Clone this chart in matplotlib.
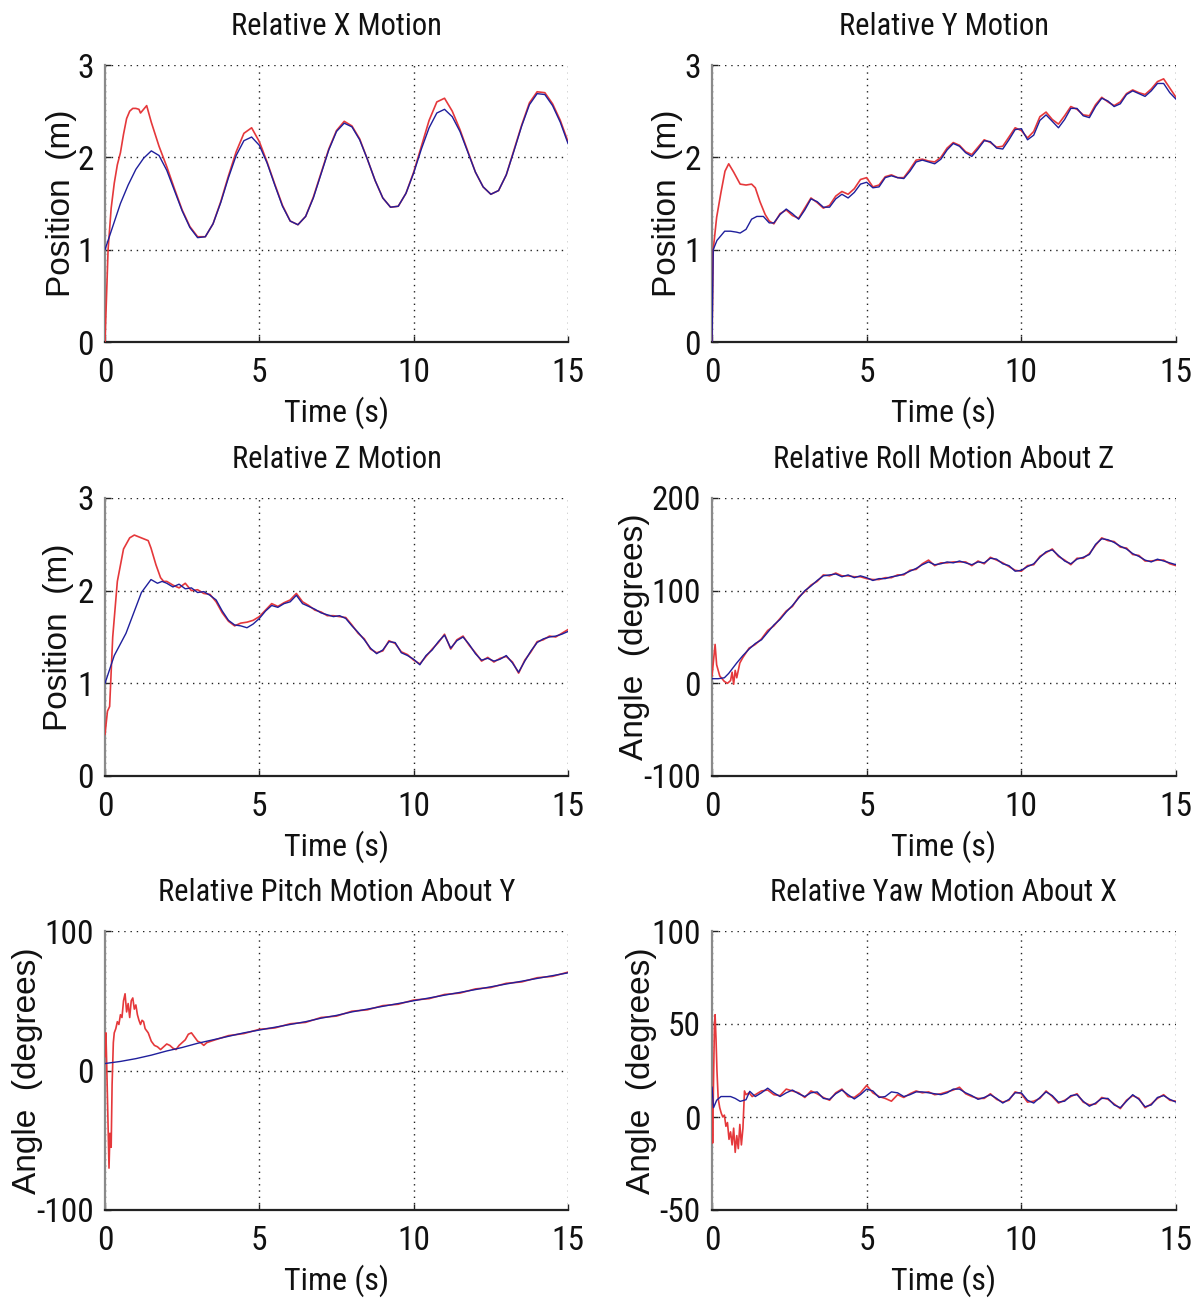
import numpy as np
import matplotlib
matplotlib.use("Agg")
import matplotlib.pyplot as plt

plt.rcParams["axes.unicode_minus"] = False
NARROW = ["Roboto Condensed", "Liberation Sans", "DejaVu Sans"]
WIDE = ["Liberation Sans", "DejaVu Sans"]

# ---------------- data ----------------
# Relative X motion
x_blue_t = np.arange(0, 15.001, 0.25)
x_blue_v = [1.00, 1.25, 1.50, 1.70,
            1.87, 1.99, 2.07, 2.02,
            1.86, 1.64, 1.42, 1.24,
            1.13, 1.14, 1.28, 1.51,
            1.78, 2.02, 2.18, 2.22,
            2.13, 1.94, 1.70, 1.47,
            1.31, 1.27, 1.36, 1.56,
            1.82, 2.08, 2.28, 2.37,
            2.33, 2.19, 1.98, 1.75,
            1.56, 1.46, 1.47, 1.61,
            1.83, 2.09, 2.32, 2.48,
            2.52, 2.44, 2.28, 2.06,
            1.84, 1.68, 1.60, 1.64,
            1.81, 2.07, 2.34, 2.57,
            2.69, 2.68, 2.56, 2.38,
            2.15]
x_red_t = np.concatenate([[0, 0.05, 0.1, 0.2, 0.3, 0.4, 0.5, 0.6, 0.7, 0.8, 0.9, 1.0,
                           1.1, 1.15, 1.25, 1.35, 1.5, 1.75], np.arange(2.0, 15.001, 0.25)])
x_red_v = [0, 0.5, 1.0, 1.45, 1.72, 1.92, 2.05, 2.25, 2.42, 2.5, 2.53, 2.53,
           2.52, 2.48, 2.52, 2.56, 2.38, 2.12,
           1.90, 1.66, 1.43, 1.25,
           1.14, 1.14, 1.28, 1.52,
           1.80, 2.06, 2.26, 2.32,
           2.17, 1.95, 1.71, 1.48,
           1.31, 1.27, 1.36, 1.57,
           1.83, 2.09, 2.29, 2.39,
           2.34, 2.20, 1.98, 1.75,
           1.56, 1.46, 1.47, 1.61,
           1.84, 2.12, 2.40, 2.60,
           2.64, 2.50, 2.30, 2.07,
           1.84, 1.68, 1.60, 1.64,
           1.81, 2.08, 2.35, 2.59,
           2.71, 2.70, 2.58, 2.40,
           2.17]

# Relative Y motion
y_blue_t = np.concatenate([[0, 0.04, 0.16, 0.41, 0.6, 0.79, 0.91, 1.1, 1.28, 1.45, 1.66, 1.85],
                           np.arange(2.0, 15.001, 0.2)])
y_blue_v = [0, 1.0, 1.10, 1.20, 1.20, 1.19, 1.18, 1.22, 1.33, 1.36, 1.36, 1.29,
            1.29, 1.38, 1.44, 1.39, 1.33,
            1.43, 1.55, 1.52, 1.46, 1.46,
            1.55, 1.60, 1.56, 1.62, 1.71,
            1.73, 1.67, 1.68, 1.78, 1.80,
            1.78, 1.77, 1.85, 1.95, 1.97,
            1.95, 1.93, 1.98, 2.08, 2.15,
            2.12, 2.05, 2.01, 2.09, 2.18,
            2.17, 2.10, 2.09, 2.19, 2.30,
            2.31, 2.19, 2.24, 2.40, 2.46,
            2.39, 2.32, 2.41, 2.53, 2.53,
            2.45, 2.43, 2.55, 2.64, 2.61,
            2.55, 2.58, 2.68, 2.72, 2.69,
            2.66, 2.72, 2.80, 2.80, 2.70,
            2.63]
y_red_t = np.concatenate([[0, 0.04, 0.15, 0.29, 0.42, 0.54, 0.7, 0.91, 1.1, 1.28, 1.4, 1.55,
                           1.72, 1.85], np.arange(2.0, 15.001, 0.2)])
y_red_v = [0, 1.0, 1.35, 1.62, 1.85, 1.93, 1.84, 1.71, 1.70, 1.71, 1.67, 1.52,
           1.38, 1.31,
           1.28, 1.39, 1.43, 1.37, 1.34,
           1.45, 1.56, 1.51, 1.45, 1.48,
           1.58, 1.63, 1.60, 1.66, 1.76,
           1.78, 1.68, 1.70, 1.79, 1.81,
           1.78, 1.78, 1.87, 1.97, 1.98,
           1.96, 1.95, 2.00, 2.10, 2.16,
           2.13, 2.06, 2.03, 2.11, 2.19,
           2.16, 2.11, 2.12, 2.22, 2.32,
           2.29, 2.21, 2.28, 2.44, 2.49,
           2.41, 2.36, 2.45, 2.55, 2.52,
           2.46, 2.45, 2.57, 2.65, 2.60,
           2.56, 2.60, 2.69, 2.73, 2.70,
           2.68, 2.74, 2.82, 2.85, 2.75,
           2.65]

# Relative Z motion
z_blue_t = np.concatenate([[0, 0.3, 0.68, 1.18, 1.49, 1.7, 1.85], np.arange(2.0, 15.001, 0.2)])
z_blue_v = [1.0, 1.3, 1.54, 1.98, 2.12, 2.08, 2.10,
            2.08, 2.04, 2.07, 2.02, 2.03,
            1.98, 1.99, 1.95, 1.90, 1.78,
            1.68, 1.63, 1.62, 1.60, 1.64,
            1.70, 1.78, 1.84, 1.82, 1.86,
            1.88, 1.95, 1.86, 1.83, 1.80,
            1.76, 1.74, 1.72, 1.73, 1.70,
            1.62, 1.55, 1.47, 1.38, 1.32,
            1.36, 1.45, 1.44, 1.33, 1.30,
            1.26, 1.20, 1.30, 1.36, 1.45,
            1.52, 1.38, 1.46, 1.50, 1.42,
            1.32, 1.25, 1.27, 1.24, 1.26,
            1.30, 1.22, 1.12, 1.24, 1.35,
            1.44, 1.48, 1.50, 1.51, 1.53,
            1.56]
z_red_t = np.concatenate([[0, 0.08, 0.15, 0.25, 0.4, 0.6, 0.8, 0.95, 1.1, 1.25, 1.4, 1.49,
                           1.65, 1.8, 1.9], np.arange(2.0, 15.001, 0.2)])
z_red_v = [0.45, 0.7, 0.75, 1.5, 2.1, 2.45, 2.57, 2.60, 2.58, 2.56, 2.54, 2.46,
           2.28, 2.14, 2.10,
           2.10, 2.06, 2.03, 2.08, 2.00,
           2.01, 1.97, 1.96, 1.88, 1.76,
           1.67, 1.62, 1.65, 1.66, 1.68,
           1.72, 1.79, 1.86, 1.83, 1.87,
           1.90, 1.97, 1.88, 1.84, 1.79,
           1.77, 1.73, 1.73, 1.72, 1.71,
           1.63, 1.54, 1.48, 1.37, 1.33,
           1.35, 1.46, 1.43, 1.34, 1.31,
           1.25, 1.21, 1.29, 1.37, 1.44,
           1.53, 1.37, 1.47, 1.51, 1.41,
           1.33, 1.24, 1.28, 1.23, 1.27,
           1.29, 1.23, 1.11, 1.25, 1.34,
           1.45, 1.47, 1.51, 1.50, 1.54,
           1.58]

# Relative roll motion about Z
roll_blue_t = np.concatenate([[0, 0.2, 0.4, 0.54, 0.8], np.arange(1.0, 15.001, 0.2)])
roll_blue_v = [5, 5, 6, 10.7, 22,
               30, 37, 43, 47, 55,
               63, 69, 77, 84, 92,
               100, 105, 111, 116, 117,
               118, 115, 117, 114, 116,
               114, 111, 113, 113, 115,
               116, 118, 121, 124, 128,
               131, 128, 129, 131, 130,
               132, 130, 128, 131, 130,
               135, 134, 129, 127, 121,
               122, 126, 129, 136, 142,
               144, 138, 132, 129, 134,
               136, 139, 150, 156, 155,
               152, 148, 145, 140, 137,
               133, 131, 134, 132, 130,
               128]
roll_red_t = np.concatenate([[0, 0.05, 0.1, 0.15, 0.25, 0.4, 0.5, 0.6, 0.65, 0.7, 0.75, 0.8, 0.9],
                             np.arange(1.0, 15.001, 0.2)])
roll_red_v = [8, 25, 42, 20, 8, 2, 0, 3, 12, -1, 14, 6, 22,
              28, 38, 42, 48, 57,
              62, 70, 78, 83, 93,
              99, 106, 110, 117, 116,
              119, 116, 116, 115, 115,
              113, 112, 112, 114, 114,
              117, 117, 122, 123, 129,
              133, 127, 130, 130, 131,
              131, 131, 127, 132, 129,
              136, 133, 130, 126, 122,
              121, 127, 128, 137, 141,
              145, 137, 133, 128, 135,
              135, 140, 149, 157, 154,
              153, 147, 146, 139, 138,
              132, 132, 133, 133, 129,
              127]

# Relative pitch motion about Y
pitch_blue_t = np.arange(0, 15.001, 0.5)
pitch_blue_v = [5, 6.5, 8.5, 11, 14, 16.5, 19.5, 22, 24.5, 27,
                29, 31, 33, 35, 37.5, 39.5, 42, 44, 46, 48,
                50, 52, 54, 56, 58, 60, 62, 64, 66, 68, 70]
pitch_red_t = np.concatenate([[0, 0.03, 0.06, 0.1, 0.13, 0.16, 0.2, 0.23, 0.27, 0.3, 0.35, 0.4,
                               0.45, 0.5, 0.55, 0.6, 0.65, 0.7, 0.75, 0.8, 0.85, 0.9, 0.95, 1.0,
                               1.05, 1.1, 1.15, 1.2, 1.25, 1.3, 1.4, 1.5, 1.6, 1.7, 1.8, 1.9,
                               2.0, 2.1, 2.2, 2.3, 2.4, 2.5, 2.6, 2.7, 2.8, 2.9, 3.0, 3.1,
                               3.2, 3.3], np.arange(3.5, 15.001, 0.5)])
pitch_red_v = [10, 27, 0, -40, -70, -45, -55, -10, 20, 27, 30, 35,
               33, 40, 38, 50, 55, 42, 48, 38, 50, 52, 44, 47,
               40, 36, 33, 36, 35, 30, 27, 21, 18, 17, 15, 17,
               19, 18, 16, 15, 18, 20, 22, 26, 27, 24, 21, 20,
               18, 20,
               21.5, 25, 26.5, 29.5, 30.5, 33.5, 34.5, 38, 39, 42.5, 43.5, 46.5,
               47.5, 50.5, 51.5, 54.5, 55.5, 58.5, 59.5, 62.5, 63.5, 66.5, 67.5, 70.5]

# Relative yaw motion about X
yaw_blue_t = np.concatenate([[0, 0.05, 0.15, 0.29, 0.45, 0.6, 0.75, 0.91, 1.1, 1.22],
                             np.arange(1.4, 15.001, 0.2)])
yaw_blue_v = [16, 5, 9, 11, 11, 11, 10, 8.4, 9.3, 13.8,
              11, 13, 15.5,
              13, 11, 13, 14.5, 12.5,
              11, 13, 13.5, 10, 9.5,
              12.5, 14.5, 12, 9.7, 12,
              15, 14, 10.5, 11, 13.5,
              13, 11, 12, 13.5, 13.5,
              13, 12.5, 12, 13, 15,
              15, 13, 11.5, 9.5, 10.5,
              12, 10, 7.5, 9.5, 13,
              13, 9, 7.5, 10.5, 13.5,
              11.5, 8, 8.5, 11.5, 12,
              8.5, 5.8, 7.5, 10, 10,
              6.5, 5, 8.5, 12, 9.5,
              5.5, 6.5, 10.5, 11.5, 9.5,
              8]
yaw_red_t = np.concatenate([[0, 0.02, 0.05, 0.08, 0.1, 0.13, 0.16, 0.2, 0.25, 0.3, 0.35, 0.4,
                             0.45, 0.5, 0.55, 0.6, 0.65, 0.7, 0.75, 0.8, 0.85, 0.9, 0.95, 1.0,
                             1.05, 1.1, 1.2, 1.3], np.arange(1.4, 15.001, 0.2)])
yaw_red_v = [10, -14, 20, 50, 55, 42, 25, 10, 5, 2, 0, 1,
             -5, -3, -12, -8, -15, -6, -19, -10, -17, -4, -15, -6,
             14, 12, 13, 11,
             12, 14, 14.5,
             12, 11.5, 15, 14, 13,
             10.5, 14, 12.5, 10.5, 9,
             13, 15, 11, 10.5, 13,
             17, 13, 11, 10, 8.5,
             12, 10.5, 12.5, 14, 13,
             13.5, 12, 12.5, 13.5, 14.5,
             16, 12.5, 11, 10, 10,
             12.5, 9.5, 8, 9, 13.5,
             12.5, 8, 8.5, 10, 14,
             11, 7.5, 9, 11, 12.5,
             8, 6.5, 7, 10.5, 9.5,
             7, 4.5, 9, 11.5, 10,
             5, 7, 10, 12, 9,
             8.5]

titles = ["Relative X Motion", "Relative Y Motion", "Relative Z Motion",
          "Relative Roll Motion About Z", "Relative Pitch Motion About Y",
          "Relative Yaw Motion About X"]
ylabels = ["Position  (m)", "Position  (m)", "Position  (m)",
           "Angle  (degrees)", "Angle  (degrees)", "Angle  (degrees)"]
xlabel = "Time (s)"
x_ticks = [0, 5, 10, 15]
y_ticks = [[0, 1, 2, 3], [0, 1, 2, 3], [0, 1, 2, 3],
           [-100, 0, 100, 200], [-100, 0, 100], [-50, 0, 50, 100]]

series = [
    (x_blue_t, x_blue_v, x_red_t, x_red_v),
    (y_blue_t, y_blue_v, y_red_t, y_red_v),
    (z_blue_t, z_blue_v, z_red_t, z_red_v),
    (roll_blue_t, roll_blue_v, roll_red_t, roll_red_v),
    (pitch_blue_t, pitch_blue_v, pitch_red_t, pitch_red_v),
    (yaw_blue_t, yaw_blue_v, yaw_red_t, yaw_red_v),
]

# ---------------- layout ----------------
W, H = 1203, 1305
fig = plt.figure(figsize=(W / 100, H / 100), dpi=100)
fig.patch.set_facecolor("white")

cols = [(105, 568), (712, 1176)]
rows = [(65, 342), (498, 776), (931, 1210)]
ylabel_off = [-0.095, -0.095, -0.10, -0.168, -0.168, -0.151]

BLUE = "#1f1f9c"
RED = "#e5383b"

for i, (bt, bv, rt, rv) in enumerate(series):
    r, c = divmod(i, 2)
    x0, x1 = cols[c]
    y0, y1 = rows[r]
    ax = fig.add_axes([x0 / W, 1 - y1 / H, (x1 - x0) / W, (y1 - y0) / H])
    ax.plot(rt, rv, color=RED, lw=1.2, zorder=3)
    ax.plot(bt, bv, color=BLUE, lw=1.0, zorder=4)
    ax.set_xlim(0, 15)
    yt = y_ticks[i]
    ax.set_ylim(yt[0], yt[-1])
    ax.set_xticks(x_ticks)
    ax.set_yticks(yt)
    ax.grid(True, color="#222222", linestyle=(0, (1, 3.5)), linewidth=1.0)
    ax.set_axisbelow(True)
    for s in ("top", "right"):
        ax.spines[s].set_visible(False)
    ax.spines["left"].set_color("#8a8a8a")
    ax.spines["left"].set_linewidth(1.6)
    ax.spines["bottom"].set_color("#222222")
    ax.spines["bottom"].set_linewidth(1.6)
    ax.tick_params(direction="in", length=4, width=1, colors="#222222", pad=8)
    ax.tick_params(axis="x", pad=11)
    for lab in ax.get_xticklabels() + ax.get_yticklabels():
        lab.set_fontfamily(NARROW)
        lab.set_fontsize(24)
        lab.set_color("#111111")
    ax.text(0.5, 1 + 39 / (y1 - y0), titles[i], transform=ax.transAxes,
            ha="center", va="center", fontsize=22, family=NARROW, color="#111111")
    ax.set_xlabel(xlabel, fontsize=23, family=NARROW, color="#111111", va="center")
    ax.xaxis.set_label_coords(0.5, -71 / (y1 - y0))
    ax.set_ylabel(ylabels[i], fontsize=24, family=WIDE, color="#111111", va="center")
    ax.yaxis.set_label_coords(ylabel_off[i], 0.5)

fig.savefig("out.png", dpi=100, facecolor="white")
